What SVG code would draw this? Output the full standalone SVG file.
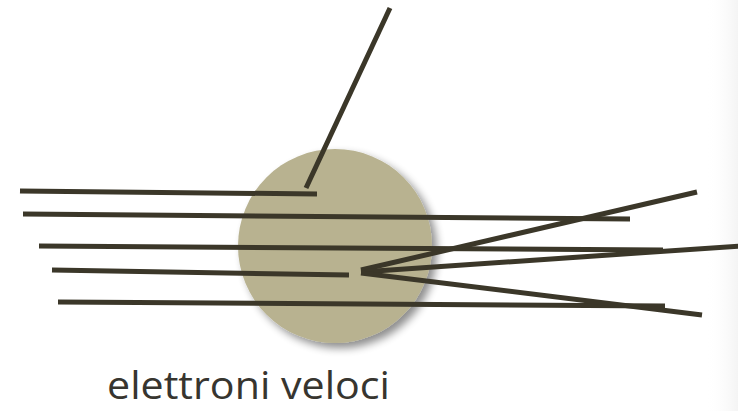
<svg xmlns="http://www.w3.org/2000/svg" width="738" height="411" viewBox="0 0 738 411">
  <defs>
    <filter id="shadow" x="-30%" y="-30%" width="160%" height="160%">
      <feGaussianBlur in="SourceAlpha" stdDeviation="4"/>
      <feOffset dx="5" dy="5" result="b"/>
      <feComponentTransfer><feFuncA type="linear" slope="0.45"/></feComponentTransfer>
      <feMerge><feMergeNode/><feMergeNode in="SourceGraphic"/></feMerge>
    </filter>
    <linearGradient id="edge" x1="0" y1="0" x2="1" y2="0">
      <stop offset="0" stop-color="#ffffff" stop-opacity="0"/>
      <stop offset="1" stop-color="#f4f4f4" stop-opacity="1"/>
    </linearGradient>
  </defs>
  <style>
    .ray { stroke: #3b3729; stroke-width: 5; fill: none; stroke-linecap: butt; }
    .label { font-family: "Open Sans", "Liberation Sans", sans-serif; font-size: 39px; fill: #37352f; }
  </style>
  <rect x="0" y="0" width="738" height="411" fill="#ffffff"/>
  <rect x="705" y="0" width="33" height="411" fill="url(#edge)"/>
  <g id="atom">
    <circle cx="335" cy="246" r="97" fill="#b8b290" filter="url(#shadow)"/>
  </g>
  <g id="connectors">
    <line class="ray" x1="20" y1="191" x2="317" y2="194"/>
    <line class="ray" x1="390" y1="8" x2="306" y2="188"/>
    <line class="ray" x1="23" y1="214" x2="630" y2="219"/>
    <line class="ray" x1="39" y1="246" x2="663" y2="250"/>
    <line class="ray" x1="52" y1="270" x2="349" y2="275"/>
    <line class="ray" x1="58" y1="302" x2="665" y2="306"/>
    <line class="ray" x1="361" y1="270" x2="697" y2="192"/>
    <line class="ray" x1="361" y1="272" x2="740" y2="246"/>
    <line class="ray" x1="361" y1="273" x2="702" y2="315"/>
  </g>
  <g id="caption">
    <text class="label" x="107" y="399" textLength="283" lengthAdjust="spacingAndGlyphs">elettroni veloci</text>
  </g>
</svg>
